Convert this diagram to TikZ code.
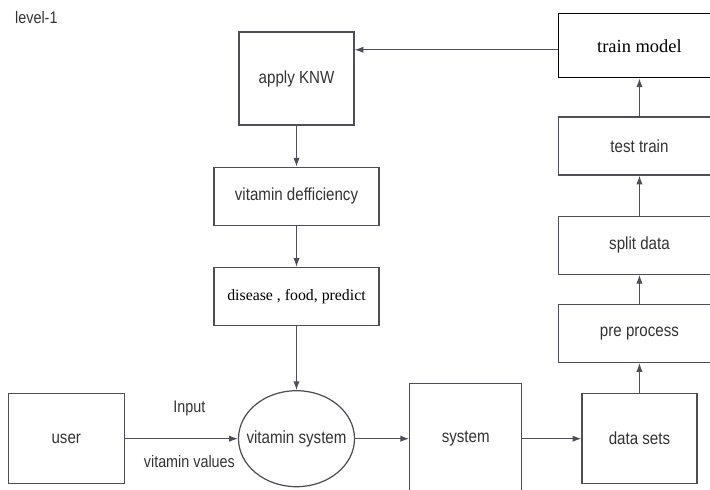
\documentclass[tikz,border=0pt]{standalone}
\usepackage{fontspec}
\setmainfont{Liberation Sans}[FakeStretch=0.86]
\newfontfamily\serifbox{Liberation Serif}
\usepackage{xcolor}
\usetikzlibrary{arrows.meta, positioning, shapes}

\definecolor{linegray}{HTML}{4E4E58}
\definecolor{textgray}{HTML}{333333}

\begin{document}
\begin{tikzpicture}[
    node distance=0.82cm and 1.1cm,
    block/.style={rectangle, draw=linegray, line width=0.7pt, align=center, text=textgray, font=\fontsize{10}{12}\selectfont},
    serifblock/.style={block, font=\serifbox\fontsize{9}{11}\selectfont, text=black},
    oval/.style={ellipse, draw=linegray, line width=0.7pt, align=center, text=textgray, font=\fontsize{10}{12}\selectfont, minimum width=2.32cm, minimum height=1.92cm, inner xsep=-0.25cm, inner ysep=0pt},
    flowlabel/.style={text=textgray, font=\fontsize{9.5}{11}\selectfont},
    arrow/.style={-{Latex[length=5pt, width=3.6pt]}, line width=0.6pt, color=linegray}
]

    % Page size
    \clip (0,0) rectangle (14.2,-9.78);

    % --- Title ---
    \node[flowlabel, anchor=west] (level) at (0.18,-0.36) {level-1};

    % --- Left column ---
    \node[block, minimum width=2.3cm, minimum height=1.86cm] (knw) at (5.93,-1.57) {apply KNW};
    \node[block, minimum width=3.3cm, minimum height=1.16cm, below=of knw] (deficiency) {vitamin defficiency};
    \node[serifblock, minimum width=3.3cm, minimum height=1.16cm, below=of deficiency] (predict) {disease , food, predict};

    % --- Bottom row ---
    \node[oval, below=1.28cm of predict] (vitsys) {vitamin system};
    \node[block, minimum width=2.32cm, minimum height=1.8cm, left=2.26cm of vitsys] (user) {user};
    \node[block, minimum width=2.24cm, minimum height=2.2cm, right=1.08cm of vitsys] (system) {system};
    \node[block, minimum width=2.3cm, minimum height=1.8cm, right=1.18cm of system] (datasets) {data sets};

    % --- Right column ---
    \node[block, minimum width=3.24cm, minimum height=1.16cm, above=0.6cm of datasets] (preprocess) {pre process};
    \node[block, minimum width=3.24cm, minimum height=1.16cm, above=0.58cm of preprocess] (split) {split data};
    \node[block, minimum width=3.24cm, minimum height=1.16cm, above=0.8cm of split] (test) {test train};
    \node[serifblock, draw=black, font=\serifbox\fontsize{10.5}{12}\selectfont, minimum width=3.24cm, minimum height=1.28cm, above=0.76cm of test] (train) {train model};

    % --- Connections ---
    \draw[arrow] ([yshift=-0.08cm]train.west) -- ([yshift=-0.08cm]train.west -| knw.east);
    \draw[arrow] (knw) -- (deficiency);
    \draw[arrow] (deficiency) -- (predict);
    \draw[arrow] (predict) -- (vitsys);

    \draw[arrow] (user) -- node[flowlabel, above=0.33cm, xshift=0.16cm] (input) {Input}
        node[flowlabel, below=0.2cm, xshift=0.16cm] (values) {vitamin values} (vitsys);
    \draw[arrow] (vitsys) -- (system);
    \draw[arrow] (system) -- (datasets);

    \draw[arrow] (datasets) -- (preprocess);
    \draw[arrow] (preprocess) -- (split);
    \draw[arrow] (split) -- (test);
    \draw[arrow] (test) -- (train);

\end{tikzpicture}
\end{document}
